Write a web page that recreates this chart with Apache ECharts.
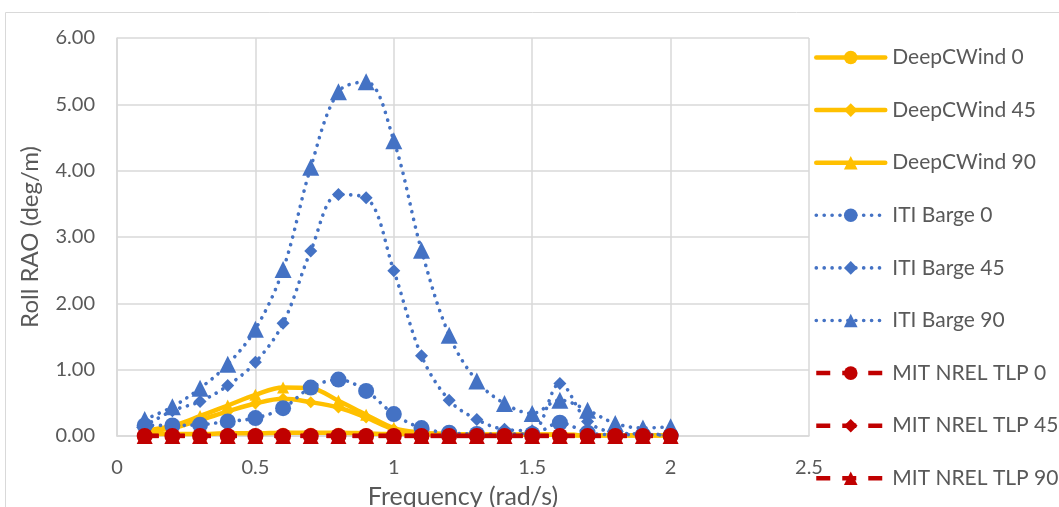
<!DOCTYPE html>
<html>
<head>
<meta charset="utf-8">
<script src="https://cdn.jsdelivr.net/npm/echarts@6/dist/echarts.min.js"></script>
<style>
  html, body { margin: 0; padding: 0; background: #fff; }
  #chart { width: 1059px; height: 507px; }
</style>
</head>
<body>
<div id="chart"></div>
<script>
// Wave frequencies (rad/s)
const freq = [0.1, 0.2, 0.3, 0.4, 0.5, 0.6, 0.7, 0.8, 0.9, 1.0,
              1.1, 1.2, 1.3, 1.4, 1.5, 1.6, 1.7, 1.8, 1.9, 2.0];

// Roll RAO (deg/m) per platform and heading
const deepCWind0  = [0.03, 0.03, 0.03, 0.04, 0.04, 0.05, 0.05, 0.05, 0.04, 0.03,
                     0.03, 0.02, 0.02, 0.02, 0.02, 0.02, 0.01, 0.01, 0.01, 0.01];
const deepCWind45 = [0.06, 0.12, 0.24, 0.37, 0.49, 0.56, 0.51, 0.43, 0.28, 0.10,
                     0.04, 0.03, 0.02, 0.02, 0.02, 0.02, 0.01, 0.01, 0.01, 0.01];
const deepCWind90 = [0.08, 0.15, 0.30, 0.46, 0.62, 0.73, 0.72, 0.53, 0.32, 0.12,
                     0.05, 0.03, 0.02, 0.02, 0.02, 0.02, 0.01, 0.01, 0.01, 0.01];
const itiBarge0   = [0.16, 0.16, 0.17, 0.22, 0.27, 0.42, 0.73, 0.85, 0.68, 0.33,
                     0.12, 0.05, 0.03, 0.03, 0.03, 0.20, 0.05, 0.02, 0.02, 0.01];
const itiBarge45  = [0.15, 0.38, 0.52, 0.76, 1.11, 1.70, 2.79, 3.64, 3.59, 2.49,
                     1.21, 0.54, 0.25, 0.10, 0.08, 0.79, 0.22, 0.05, 0.03, 0.02];
const itiBarge90  = [0.25, 0.44, 0.72, 1.08, 1.61, 2.51, 4.05, 5.19, 5.34, 4.45,
                     2.80, 1.52, 0.83, 0.49, 0.34, 0.54, 0.39, 0.19, 0.12, 0.14];
const mitTlp0     = [0, 0, 0, 0, 0, 0, 0, 0, 0, 0, 0, 0, 0, 0, 0, 0, 0, 0, 0, 0];
const mitTlp45    = [0, 0, 0, 0, 0, 0, 0, 0, 0, 0, 0, 0, 0, 0, 0, 0, 0, 0, 0, 0];
const mitTlp90    = [0, 0, 0, 0, 0, 0, 0, 0, 0, 0, 0, 0, 0, 0, 0, 0, 0, 0, 0, 0];

const FONT = 'Lato, "Liberation Sans", sans-serif';
const TEXT = '#595959';
const GRID = '#d9d9d9';

const YELLOW = '#FFC000';
const BLUE = '#4472C4';
const RED = '#C00000';

const pairs = vals => freq.map((f, i) => [f, vals[i]]);

function makeSeries(name, vals, color, symbol, size, lineStyle) {
  return {
    name: name,
    type: 'line',
    data: pairs(vals),
    smooth: 0.35,
    symbol: symbol,
    symbolSize: size,
    showSymbol: true,
    showAllSymbol: true,
    itemStyle: { color: color },
    lineStyle: Object.assign({ color: color }, lineStyle),
    emphasis: { disabled: true }
  };
}

const solid  = { width: 4.5, type: 'solid', cap: 'round' };
const dotted = { width: 3.6, type: [0.1, 7.8], cap: 'round' };
const dashed = { width: 4.5, type: [14, 12], cap: 'butt' };

const series = [
  makeSeries('DeepCWind 0',  deepCWind0,  YELLOW, 'circle',   10, solid),
  makeSeries('DeepCWind 45', deepCWind45, YELLOW, 'diamond',  12, solid),
  makeSeries('DeepCWind 90', deepCWind90, YELLOW, 'triangle', 12, solid),
  makeSeries('ITI Barge 0',  itiBarge0,   BLUE,   'circle',   16, dotted),
  makeSeries('ITI Barge 45', itiBarge45,  BLUE,   'diamond',  13, dotted),
  makeSeries('ITI Barge 90', itiBarge90,  BLUE,   'triangle', 17, dotted),
  makeSeries('MIT NREL TLP 0',  mitTlp0,  RED, 'circle',   16, dashed),
  makeSeries('MIT NREL TLP 45', mitTlp45, RED, 'diamond',  14, dashed),
  makeSeries('MIT NREL TLP 90', mitTlp90, RED, 'triangle', 16, dashed)
];

// Legend entries carry the same stroke as their series
const legendData = series.map(s => ({
  name: s.name,
  lineStyle: { color: s.lineStyle.color, width: s.lineStyle.width, type: s.lineStyle.type, cap: s.lineStyle.cap }
}));

const chart = echarts.init(document.getElementById('chart'), null, { renderer: 'canvas' });

chart.setOption({
  animation: false,
  backgroundColor: '#ffffff',
  textStyle: { fontFamily: FONT, color: TEXT },
  graphic: [{
    type: 'rect',
    shape: { x: 5.5, y: 12.5, width: 2000, height: 1000 },
    style: { fill: 'none', stroke: GRID, lineWidth: 1 },
    silent: true,
    z: -10
  }],
  grid: { left: 117, right: 250, top: 38, bottom: 71, containLabel: false, outerBoundsMode: 'none' },
  legend: {
    orient: 'vertical',
    left: 814,
    top: 47,
    padding: 0,
    itemWidth: 69,
    itemHeight: 17,
    itemGap: 31.6,
    selectedMode: false,
    textStyle: { fontFamily: FONT, fontSize: 21, color: TEXT, lineHeight: 20, padding: [0, 0, 0, 2] },
    data: legendData
  },
  xAxis: {
    type: 'value',
    min: 0,
    max: 2.5,
    interval: 0.5,
    name: 'Frequency (rad/s)',
    nameLocation: 'middle',
    nameGap: 48,
    nameTextStyle: { fontFamily: FONT, fontSize: 25, color: TEXT },
    axisLine: { show: true, lineStyle: { color: GRID, width: 1.5 } },
    axisTick: { show: false },
    axisLabel: { fontFamily: FONT, fontSize: 20, color: TEXT, margin: 22 },
    splitLine: { show: true, lineStyle: { color: GRID, width: 1.5 } }
  },
  yAxis: {
    type: 'value',
    min: 0,
    max: 6,
    interval: 1,
    name: 'Roll RAO (deg/m)',
    nameLocation: 'middle',
    nameGap: 75,
    nameTextStyle: { fontFamily: FONT, fontSize: 24, color: TEXT },
    axisLine: { show: true, lineStyle: { color: GRID, width: 1.5 } },
    axisTick: { show: false },
    axisLabel: {
      fontFamily: FONT, fontSize: 20, color: TEXT, margin: 22,
      formatter: v => v.toFixed(2)
    },
    splitLine: { show: true, lineStyle: { color: GRID, width: 1.5 } }
  },
  series: series
});
</script>
</body>
</html>
